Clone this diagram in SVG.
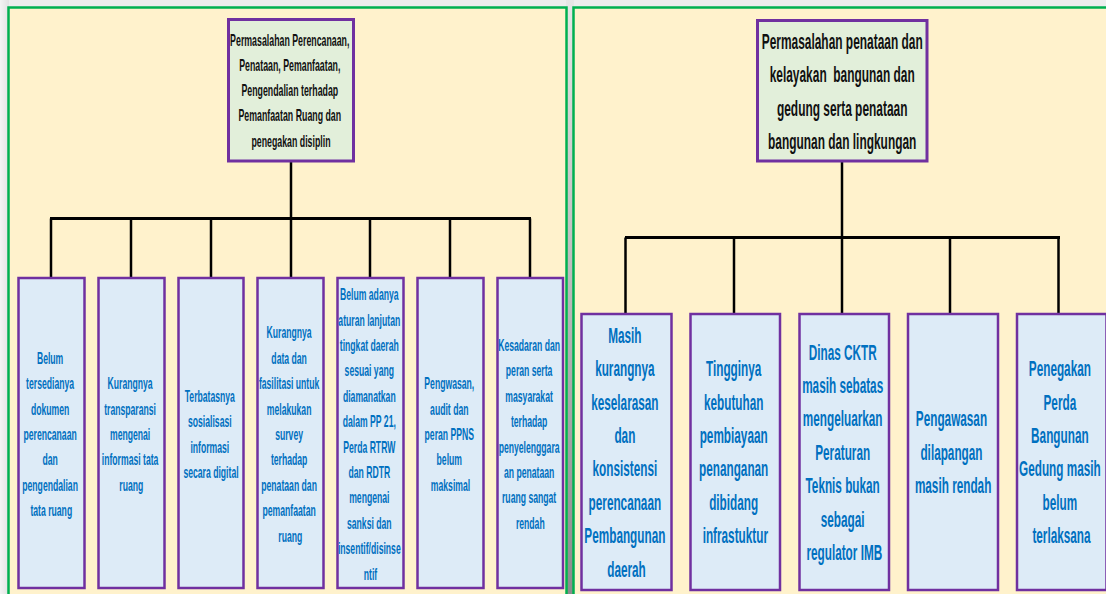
<svg xmlns="http://www.w3.org/2000/svg" width="1106" height="594" viewBox="0 0 1106 594">
<defs>
<linearGradient id="gap" x1="0" y1="0" x2="0" y2="1">
<stop offset="0" stop-color="#e6e6e6"/>
<stop offset="1" stop-color="#8c8c8c"/>
</linearGradient>
<linearGradient id="lsh" x1="0" y1="0" x2="1" y2="0">
<stop offset="0" stop-color="#f4f4f4"/>
<stop offset="1" stop-color="#e2e2e2"/>
</linearGradient>
<style>
.panel{fill:#FFF2CC;stroke:#00B050;stroke-width:2.5}
.hdr{fill:#E2EFDA;stroke:#7030A0;stroke-width:3}
.box{fill:#DDEBF7;stroke:#7030A0;stroke-width:2.5}
text{font-family:"Liberation Sans",Arial,sans-serif;font-weight:bold;text-anchor:middle}
.ht{fill:#111111}
.ct{fill:#0070C0}
.s{font-size:16px}
.l{font-size:22px}
.conn line{stroke:#000;stroke-width:2.5}
.conn line.bar{stroke-width:3.2}
</style>
</defs>
<rect x="0" y="0" width="1106" height="594" fill="#ededed"/>
<rect x="0" y="0" width="9" height="594" fill="url(#lsh)"/>
<rect x="566" y="0" width="8" height="594" fill="url(#gap)"/>
<rect class="panel" x="8.5" y="7.5" width="558" height="600"/>
<rect class="panel" x="573.5" y="7.5" width="545" height="600"/>

<g id="connectors" class="conn">
<line x1="291" y1="161" x2="291" y2="218.5"/>
<line class="bar" x1="50" y1="218.5" x2="531" y2="218.5"/>
<line x1="51" y1="218.5" x2="51" y2="278"/>
<line x1="131" y1="218.5" x2="131" y2="278"/>
<line x1="211" y1="218.5" x2="211" y2="278"/>
<line x1="291" y1="218.5" x2="291" y2="278"/>
<line x1="370" y1="218.5" x2="370" y2="278"/>
<line x1="450" y1="218.5" x2="450" y2="278"/>
<line x1="530" y1="218.5" x2="530" y2="278"/>
<line x1="842" y1="161" x2="842" y2="237.5"/>
<line class="bar" x1="625" y1="237.5" x2="1060" y2="237.5"/>
<line x1="625.5" y1="237.5" x2="625.5" y2="314"/>
<line x1="734" y1="237.5" x2="734" y2="314"/>
<line x1="842" y1="237.5" x2="842" y2="314"/>
<line x1="950" y1="237.5" x2="950" y2="314"/>
<line x1="1058.5" y1="237.5" x2="1058.5" y2="314"/>
</g>

<g id="node-left-root">
<rect class="hdr" x="228.5" y="19.5" width="125" height="141.5"/>
<g transform="translate(291 0) scale(0.55 1)">
<text class="ht" style="font-size:16px">
<tspan x="0" y="45.7">Permasalahan Perencanaan,</tspan>
<tspan x="0" y="71">Penataan, Pemanfaatan,</tspan>
<tspan x="0" y="96.2">Pengendalian terhadap</tspan>
<tspan x="0" y="121.5">Pemanfaatan Ruang dan</tspan>
<tspan x="0" y="146.7">penegakan disiplin</tspan>
</text>
</g>
</g>

<g id="node-l1">
<rect class="box" x="18.5" y="278" width="66" height="310"/>
<g transform="translate(51.3 0) scale(0.54 1)">
<text class="ct s">
<tspan x="0" y="363.8">Belum</tspan>
<tspan x="0" y="389.2">tersedianya</tspan>
<tspan x="0" y="414.6">dokumen</tspan>
<tspan x="0" y="440">perencanaan</tspan>
<tspan x="0" y="465.4">dan</tspan>
<tspan x="0" y="490.8">pengendalian</tspan>
<tspan x="0" y="516.2">tata ruang</tspan>
</text>
</g>
</g>

<g id="node-l2">
<rect class="box" x="98.5" y="278" width="66" height="310"/>
<g transform="translate(131.3 0) scale(0.54 1)">
<text class="ct s">
<tspan x="0" y="389.2">Kurangnya</tspan>
<tspan x="0" y="414.6">transparansi</tspan>
<tspan x="0" y="440">mengenai</tspan>
<tspan x="0" y="465.4">informasi tata</tspan>
<tspan x="0" y="490.8">ruang</tspan>
</text>
</g>
</g>

<g id="node-l3">
<rect class="box" x="178.5" y="278" width="65" height="310"/>
<g transform="translate(211 0) scale(0.54 1)">
<text class="ct s">
<tspan x="0" y="401.9">Terbatasnya</tspan>
<tspan x="0" y="427.3">sosialisasi</tspan>
<tspan x="0" y="452.7">informasi</tspan>
<tspan x="0" y="478.1">secara digital</tspan>
</text>
</g>
</g>

<g id="node-l4">
<rect class="box" x="257.5" y="278" width="66" height="310"/>
<g transform="translate(290.3 0) scale(0.54 1)">
<text class="ct s">
<tspan x="0" y="338.4">Kurangnya</tspan>
<tspan x="0" y="363.8">data dan</tspan>
<tspan x="0" y="389.2">fasilitasi untuk</tspan>
<tspan x="0" y="414.6">melakukan</tspan>
<tspan x="0" y="440">survey</tspan>
<tspan x="0" y="465.4">terhadap</tspan>
<tspan x="0" y="490.8">penataan dan</tspan>
<tspan x="0" y="516.2">pemanfaatan</tspan>
<tspan x="0" y="541.6">ruang</tspan>
</text>
</g>
</g>

<g id="node-l5">
<rect class="box" x="337.5" y="278" width="66" height="310"/>
<g transform="translate(370.5 0) scale(0.54 1)">
<text class="ct s">
<tspan x="0" y="300.3">Belum adanya</tspan>
<tspan x="0" y="325.7">aturan lanjutan</tspan>
<tspan x="0" y="351.1">tingkat daerah</tspan>
<tspan x="0" y="376.5">sesuai yang</tspan>
<tspan x="0" y="401.9">diamanatkan</tspan>
<tspan x="0" y="427.3">dalam PP 21,</tspan>
<tspan x="0" y="452.7">Perda RTRW</tspan>
<tspan x="0" y="478.1">dan RDTR</tspan>
<tspan x="0" y="503.5">mengenai</tspan>
<tspan x="0" y="528.9">sanksi dan</tspan>
<tspan x="0" y="554.3">insentif/disinse</tspan>
<tspan x="0" y="579.7">ntif</tspan>
</text>
</g>
</g>

<g id="node-l6">
<rect class="box" x="417.5" y="278" width="66" height="310"/>
<g transform="translate(450.5 0) scale(0.54 1)">
<text class="ct s">
<tspan x="0" y="389.2">Pengwasan,</tspan>
<tspan x="0" y="414.6">audit dan</tspan>
<tspan x="0" y="440">peran PPNS</tspan>
<tspan x="0" y="465.4">belum</tspan>
<tspan x="0" y="490.8">maksimal</tspan>
</text>
</g>
</g>

<g id="node-l7">
<rect class="box" x="497.5" y="278" width="65.5" height="310"/>
<g transform="translate(530.3 0) scale(0.54 1)">
<text class="ct s">
<tspan x="0" y="351.1">Kesadaran dan</tspan>
<tspan x="0" y="376.5">peran serta</tspan>
<tspan x="0" y="401.9">masyarakat</tspan>
<tspan x="0" y="427.3">terhadap</tspan>
<tspan x="0" y="452.7">penyelenggara</tspan>
<tspan x="0" y="478.1">an penataan</tspan>
<tspan x="0" y="503.5">ruang sangat</tspan>
<tspan x="0" y="528.9">rendah</tspan>
</text>
</g>
</g>

<g id="node-right-root">
<rect class="hdr" x="757.5" y="20.5" width="169.5" height="140.5"/>
<g transform="translate(842.2 0) scale(0.53 1)">
<text class="ht" style="font-size:22.5px" xml:space="preserve"><tspan x="0" y="49">Permasalahan penataan dan</tspan><tspan x="0" y="82.3">kelayakan  bangunan dan</tspan><tspan x="0" y="115.7">gedung serta penataan</tspan><tspan x="0" y="149">bangunan dan lingkungan</tspan></text>
</g>
</g>

<g id="node-r1">
<rect class="box" x="581.5" y="314" width="90" height="276"/>
<g transform="translate(626.5 0) scale(0.535 1)">
<text class="ct l">
<tspan x="0" y="342.9">Masih</tspan>
<tspan x="0" y="376.3">kurangnya</tspan>
<tspan x="0" y="409.7">keselarasan</tspan>
<tspan x="0" y="443.1">dan</tspan>
<tspan x="0" y="476.5">konsistensi</tspan>
<tspan x="0" y="509.9">perencanaan</tspan>
<tspan x="0" y="543.3">Pembangunan</tspan>
<tspan x="0" y="576.7">daerah</tspan>
</text>
</g>
</g>

<g id="node-r2">
<rect class="box" x="690.5" y="314" width="89.5" height="276"/>
<g transform="translate(735.3 0) scale(0.535 1)">
<text class="ct l">
<tspan x="0" y="376.3">Tingginya</tspan>
<tspan x="0" y="409.7">kebutuhan</tspan>
<tspan x="0" y="443.1">pembiayaan</tspan>
<tspan x="0" y="476.5">penanganan</tspan>
<tspan x="0" y="509.9">dibidang</tspan>
<tspan x="0" y="543.3">infrastuktur</tspan>
</text>
</g>
</g>

<g id="node-r3">
<rect class="box" x="799.5" y="314" width="89.5" height="276"/>
<g transform="translate(844.3 0) scale(0.535 1)">
<text class="ct l">
<tspan x="0" y="359.6">Dinas CKTR</tspan>
<tspan x="0" y="393">masih sebatas</tspan>
<tspan x="0" y="426.4">mengeluarkan</tspan>
<tspan x="0" y="459.8">Peraturan</tspan>
<tspan x="0" y="493.2">Teknis bukan</tspan>
<tspan x="0" y="526.6">sebagai</tspan>
<tspan x="0" y="560">regulator IMB</tspan>
</text>
</g>
</g>

<g id="node-r4">
<rect class="box" x="908" y="314" width="90" height="276"/>
<g transform="translate(953.1 0) scale(0.535 1)">
<text class="ct l">
<tspan x="0" y="426.4">Pengawasan</tspan>
<tspan x="0" y="459.8">dilapangan</tspan>
<tspan x="0" y="493.2">masih rendah</tspan>
</text>
</g>
</g>

<g id="node-r5">
<rect class="box" x="1017" y="314" width="89.5" height="276"/>
<g transform="translate(1061.5 0) scale(0.535 1)">
<text class="ct l">
<tspan x="0" y="376.3">Penegakan</tspan>
<tspan x="0" y="409.7">Perda</tspan>
<tspan x="0" y="443.1">Bangunan</tspan>
<tspan x="0" y="476.5">Gedung masih</tspan>
<tspan x="0" y="509.9">belum</tspan>
<tspan x="0" y="543.3">terlaksana</tspan>
</text>
</g>
</g>
</svg>
